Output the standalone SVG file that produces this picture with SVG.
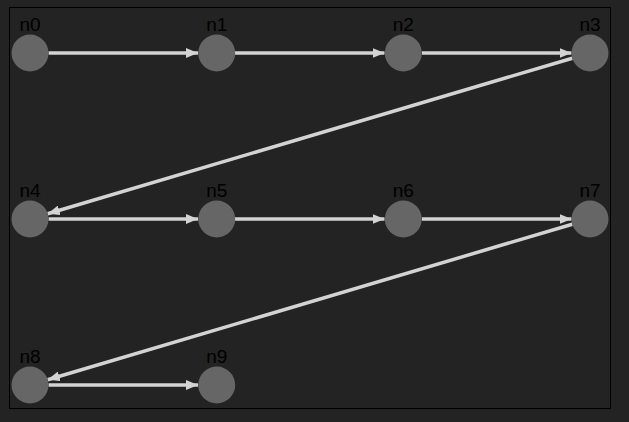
<svg xmlns="http://www.w3.org/2000/svg" width="629" height="422" viewBox="0 0 629 422">
<defs>
<style>
.node circle{fill:#666;}
.node text{font-family:"Liberation Sans",Arial,sans-serif;font-size:19px;fill:#000;text-anchor:middle;}
.edge{stroke:#d3d3d3;stroke-width:3.5;fill:none;marker-end:url(#ah);}
</style>
<marker id="ah" viewBox="0 0 12 10" refX="12" refY="5" markerWidth="12" markerHeight="10" markerUnits="userSpaceOnUse" orient="auto">
<path d="M0,0 L12,5 L0,10 z" fill="#d3d3d3"/>
</marker>
</defs>
<rect width="629" height="422" fill="#232323"/>
<rect x="9.5" y="7.5" width="601" height="401" fill="#232323" stroke="#000" stroke-width="1"/>
<g id="connectors">
<line class="edge" x1="48.5" y1="53" x2="198" y2="53"/>
<line class="edge" x1="235" y1="53" x2="384.5" y2="53"/>
<line class="edge" x1="422" y1="53" x2="571.5" y2="53"/>
<line class="edge" x1="572.3" y1="58.2" x2="47.7" y2="213.8"/>
<line class="edge" x1="48.5" y1="219" x2="198" y2="219"/>
<line class="edge" x1="235" y1="219" x2="384.5" y2="219"/>
<line class="edge" x1="422" y1="219" x2="571.5" y2="219"/>
<line class="edge" x1="572.3" y1="224.2" x2="47.7" y2="379.8"/>
<line class="edge" x1="48.5" y1="385" x2="198" y2="385"/>
</g>
<g id="n0" class="node"><circle cx="30" cy="53" r="18.5"/><text x="30" y="31">n0</text></g>
<g id="n1" class="node"><circle cx="216.7" cy="53" r="18.5"/><text x="216.7" y="31">n1</text></g>
<g id="n2" class="node"><circle cx="403.3" cy="53" r="18.5"/><text x="403.3" y="31">n2</text></g>
<g id="n3" class="node"><circle cx="590" cy="53" r="18.5"/><text x="590" y="31">n3</text></g>
<g id="n4" class="node"><circle cx="30" cy="219" r="18.5"/><text x="30" y="197">n4</text></g>
<g id="n5" class="node"><circle cx="216.7" cy="219" r="18.5"/><text x="216.7" y="197">n5</text></g>
<g id="n6" class="node"><circle cx="403.3" cy="219" r="18.5"/><text x="403.3" y="197">n6</text></g>
<g id="n7" class="node"><circle cx="590" cy="219" r="18.5"/><text x="590" y="197">n7</text></g>
<g id="n8" class="node"><circle cx="30" cy="385" r="18.5"/><text x="30" y="363">n8</text></g>
<g id="n9" class="node"><circle cx="216.7" cy="385" r="18.5"/><text x="216.7" y="363">n9</text></g>
</svg>
